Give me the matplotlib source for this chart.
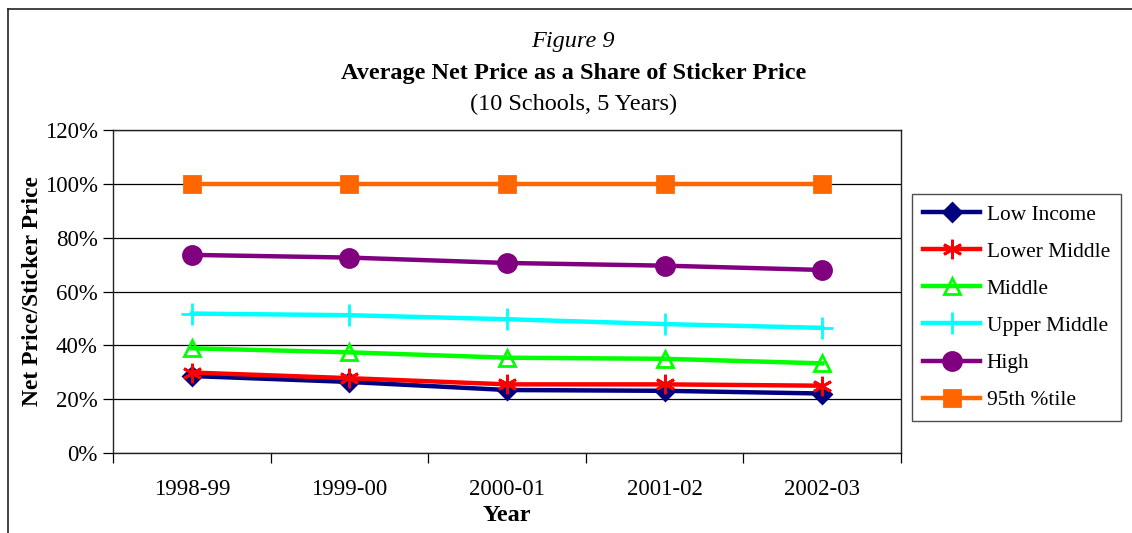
import matplotlib.pyplot as plt
from matplotlib.lines import Line2D
from matplotlib.ticker import FuncFormatter, FixedLocator
import numpy as np

plt.rcParams["font.family"] = ["Liberation Serif", "DejaVu Serif"]

years = ["1998-99", "1999-00", "2000-01", "2001-02", "2002-03"]
low_income = [28.6, 26.4, 23.4, 23.1, 22.1]
lower_middle = [29.9, 27.8, 25.5, 25.5, 25.0]
middle = [38.9, 37.4, 35.4, 35.0, 33.3]
upper_middle = [51.8, 51.2, 49.7, 47.9, 46.5]
high = [73.6, 72.6, 70.6, 69.6, 68.0]
p95 = [100, 100, 100, 100, 100]

series = [
    ("Low Income", low_income, "#000080", "D", 9, "#000080"),
    ("Lower Middle", lower_middle, "#ff0000", (6, 2, 0), 14, "#ff0000"),
    ("Middle", middle, "#00ff00", "^", 12, "none"),
    ("Upper Middle", upper_middle, "#00ffff", "+", 16, "#00ffff"),
    ("High", high, "#800080", "o", 13, "#800080"),
    ("95th %tile", p95, "#ff6600", "s", 12, "#ff6600"),
]

fig = plt.figure(figsize=(11.32, 5.33), dpi=100)
ax = fig.add_axes([113 / 1132, 80 / 533, 788 / 1132, 323 / 533])

x = np.arange(len(years))
for name, vals, col, mk, ms, fc in series:
    ax.plot(x, vals, color=col, lw=3.2, marker=mk, markersize=ms,
            markerfacecolor=fc, markeredgecolor=col, markeredgewidth=2,
            label=name, clip_on=False, zorder=3)

ax.set_xlim(-0.5, 4.5)
ax.set_ylim(0, 120)
ax.yaxis.set_major_locator(FixedLocator(np.arange(0, 121, 20)))
ax.yaxis.set_major_formatter(FuncFormatter(lambda v, p: f"{v:.0f}%"))
ax.grid(axis="y", color="black", lw=0.9)
ax.set_axisbelow(True)

ax.set_xticks(x, labels=years)
ax.tick_params(axis="x", length=0, pad=19, labelsize=16.5)
ax.set_xticks(np.arange(-0.5, 5, 1), minor=True)
ax.tick_params(axis="x", which="minor", length=7, width=0.9, direction="out")
ax.tick_params(axis="y", length=7, width=0.9, direction="out", pad=4, labelsize=16.5)

for side in ["left", "bottom", "right", "top"]:
    ax.spines[side].set_linewidth(1.0)
    ax.spines[side].set_color("#222222")

ax.set_xlabel("Year", fontsize=17.5, fontweight="bold", labelpad=3)
ax.set_ylabel("Net Price/Sticker Price", fontsize=17, fontweight="bold", labelpad=1)

fig.text(573 / 1132, 1 - 42 / 533, "Figure 9", ha="center", va="center",
         fontsize=17.5, style="italic")
fig.text(574 / 1132, 1 - 73 / 533, "Average Net Price as a Share of Sticker Price",
         ha="center", va="center", fontsize=17.5, fontweight="bold")
fig.text(574 / 1132, 1 - 104 / 533, "(10 Schools, 5 Years)", ha="center",
         va="center", fontsize=17.5)

leg = fig.legend(loc="upper left", bbox_to_anchor=(912 / 1132, 1 - 194 / 533),
                 frameon=True, fancybox=False, edgecolor="#222222",
                 fontsize=15.4, handlelength=2.7, handletextpad=0.3,
                 labelspacing=0.8, borderpad=0.5, borderaxespad=0)
leg.get_frame().set_linewidth(1.0)

fig.add_artist(Line2D([8 / 1132, 8 / 1132], [0, 1 - 9 / 533], color="#222222", lw=1.2))
fig.add_artist(Line2D([8 / 1132, 1], [1 - 9 / 533, 1 - 9 / 533], color="#222222", lw=1.2))

fig.savefig("out.png", dpi=100)
